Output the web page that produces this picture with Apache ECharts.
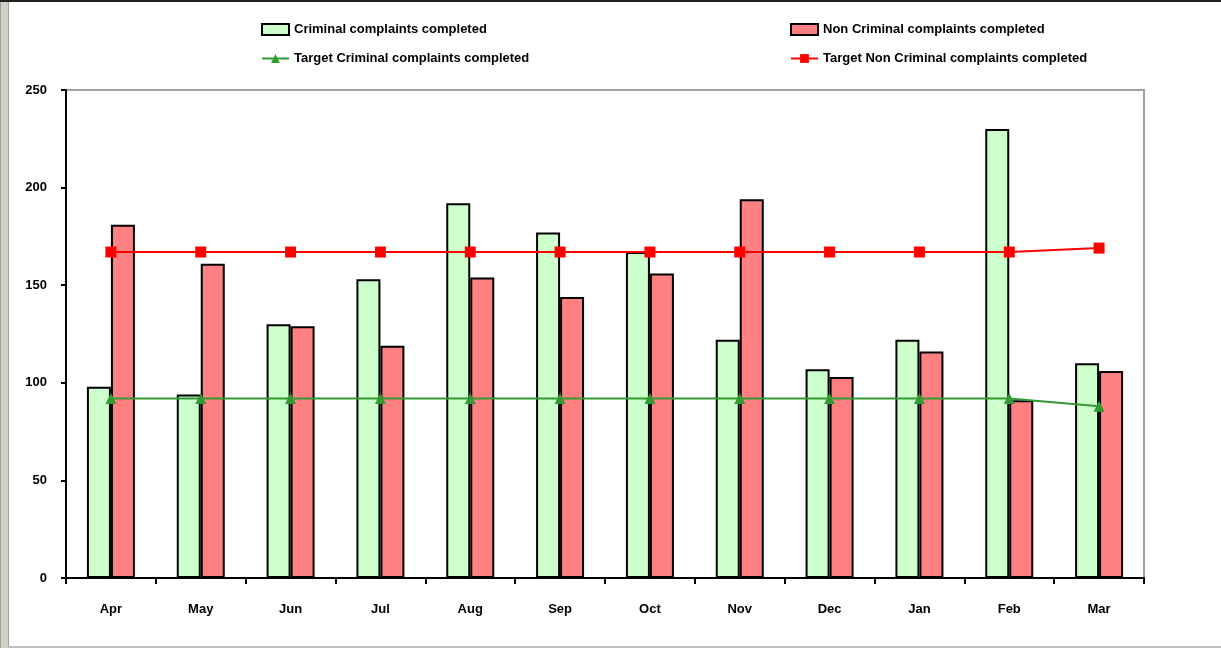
<!DOCTYPE html>
<html>
<head>
<meta charset="utf-8">
<script src="https://cdn.jsdelivr.net/npm/echarts@6/dist/echarts.min.js"></script>
<style>
html,body{margin:0;padding:0;background:#fff;}
#chart{width:1221px;height:648px;}
</style>
</head>
<body>
<div id="chart"></div>
<script>
var months = ['Apr','May','Jun','Jul','Aug','Sep','Oct','Nov','Dec','Jan','Feb','Mar'];
var criminal = [98, 94, 130, 153, 192, 177, 167, 122, 107, 122, 230, 110];
var nonCriminal = [181, 161, 129, 119, 154, 144, 156, 194, 103, 116, 91, 106];
var targetCriminal = [92, 92, 92, 92, 92, 92, 92, 92, 92, 92, 92, 88];
var targetNonCriminal = [167, 167, 167, 167, 167, 167, 167, 167, 167, 167, 167, 169];
var yTicks = [0, 50, 100, 150, 200, 250];

var fontFam = '"Liberation Sans", Arial, sans-serif';
var chart = echarts.init(document.getElementById('chart'), null, {renderer:'canvas'});
chart.setOption({
  animation: false,
  backgroundColor: '#ffffff',
  textStyle: {fontFamily: fontFam},
  graphic: [
    {type:'rect', left:0, top:0, shape:{width:8, height:648}, style:{fill:'#d4d0c8', stroke:'#a0a0a0', lineWidth:1}, silent:true},
    {type:'rect', left:0, top:0, shape:{width:1221, height:2}, style:{fill:'#202020'}, silent:true},
    {type:'rect', left:8, top:646, shape:{width:1213, height:2}, style:{fill:'#c0c0c0'}, silent:true}
  ],
  legend: [
    {
      data: [
        {name: 'Criminal complaints completed', icon: 'rect', itemStyle: {borderColor: '#000', borderWidth: 2}},
        {name: 'Target Criminal complaints completed'}
      ],
      orient: 'vertical', left: 256, top: 18, itemGap: 16, itemWidth: 27, itemHeight: 11,
      textStyle: {fontSize: 13, fontWeight: 'bold', color: '#000', fontFamily: fontFam}
    },
    {
      data: [
        {name: 'Non Criminal complaints completed', icon: 'rect', itemStyle: {borderColor: '#000', borderWidth: 2}},
        {name: 'Target Non Criminal complaints completed'}
      ],
      orient: 'vertical', left: 785, top: 18, itemGap: 16, itemWidth: 27, itemHeight: 11,
      textStyle: {fontSize: 13, fontWeight: 'bold', color: '#000', fontFamily: fontFam}
    }
  ],
  grid: {left: 66, right: 77, top: 90, bottom: 70, show: true, borderColor: '#a0a0a0', borderWidth: 2, backgroundColor: '#ffffff'},
  xAxis: {
    type: 'category', data: months, boundaryGap: true,
    axisLine: {lineStyle: {color: '#000', width: 2}},
    axisTick: {show: true, alignWithLabel: false, length: 6, lineStyle: {color: '#000', width: 2}},
    axisLabel: {color: '#000', fontSize: 13, fontWeight: 'bold', margin: 25, fontFamily: fontFam},
    splitLine: {show: false}
  },
  yAxis: {
    type: 'value', min: yTicks[0], max: yTicks[yTicks.length-1], interval: 50,
    axisLine: {show: true, lineStyle: {color: '#000', width: 2}},
    axisTick: {show: true, length: 5, lineStyle: {color: '#000', width: 2}},
    axisLabel: {color: '#000', fontSize: 13, fontWeight: 'bold', margin: 19, fontFamily: fontFam},
    splitLine: {show: false}
  },
  series: [
    {
      name: 'Criminal complaints completed', type: 'bar', data: criminal,
      barWidth: 24, barGap: '0%',
      itemStyle: {color: '#ccffcc', borderColor: '#000', borderWidth: 2}
    },
    {
      name: 'Non Criminal complaints completed', type: 'bar', data: nonCriminal,
      barWidth: 24, barGap: '0%',
      itemStyle: {color: '#ff8080', borderColor: '#000', borderWidth: 2}
    },
    {
      name: 'Target Criminal complaints completed', type: 'line', data: targetCriminal,
      symbol: 'triangle', symbolSize: 11, z: 5,
      lineStyle: {color: '#339933', width: 2},
      itemStyle: {color: '#339933'}
    },
    {
      name: 'Target Non Criminal complaints completed', type: 'line', data: targetNonCriminal,
      symbol: 'rect', symbolSize: 11, z: 5,
      lineStyle: {color: '#ff0000', width: 2},
      itemStyle: {color: '#ff0000'}
    }
  ]
});
</script>
</body>
</html>
